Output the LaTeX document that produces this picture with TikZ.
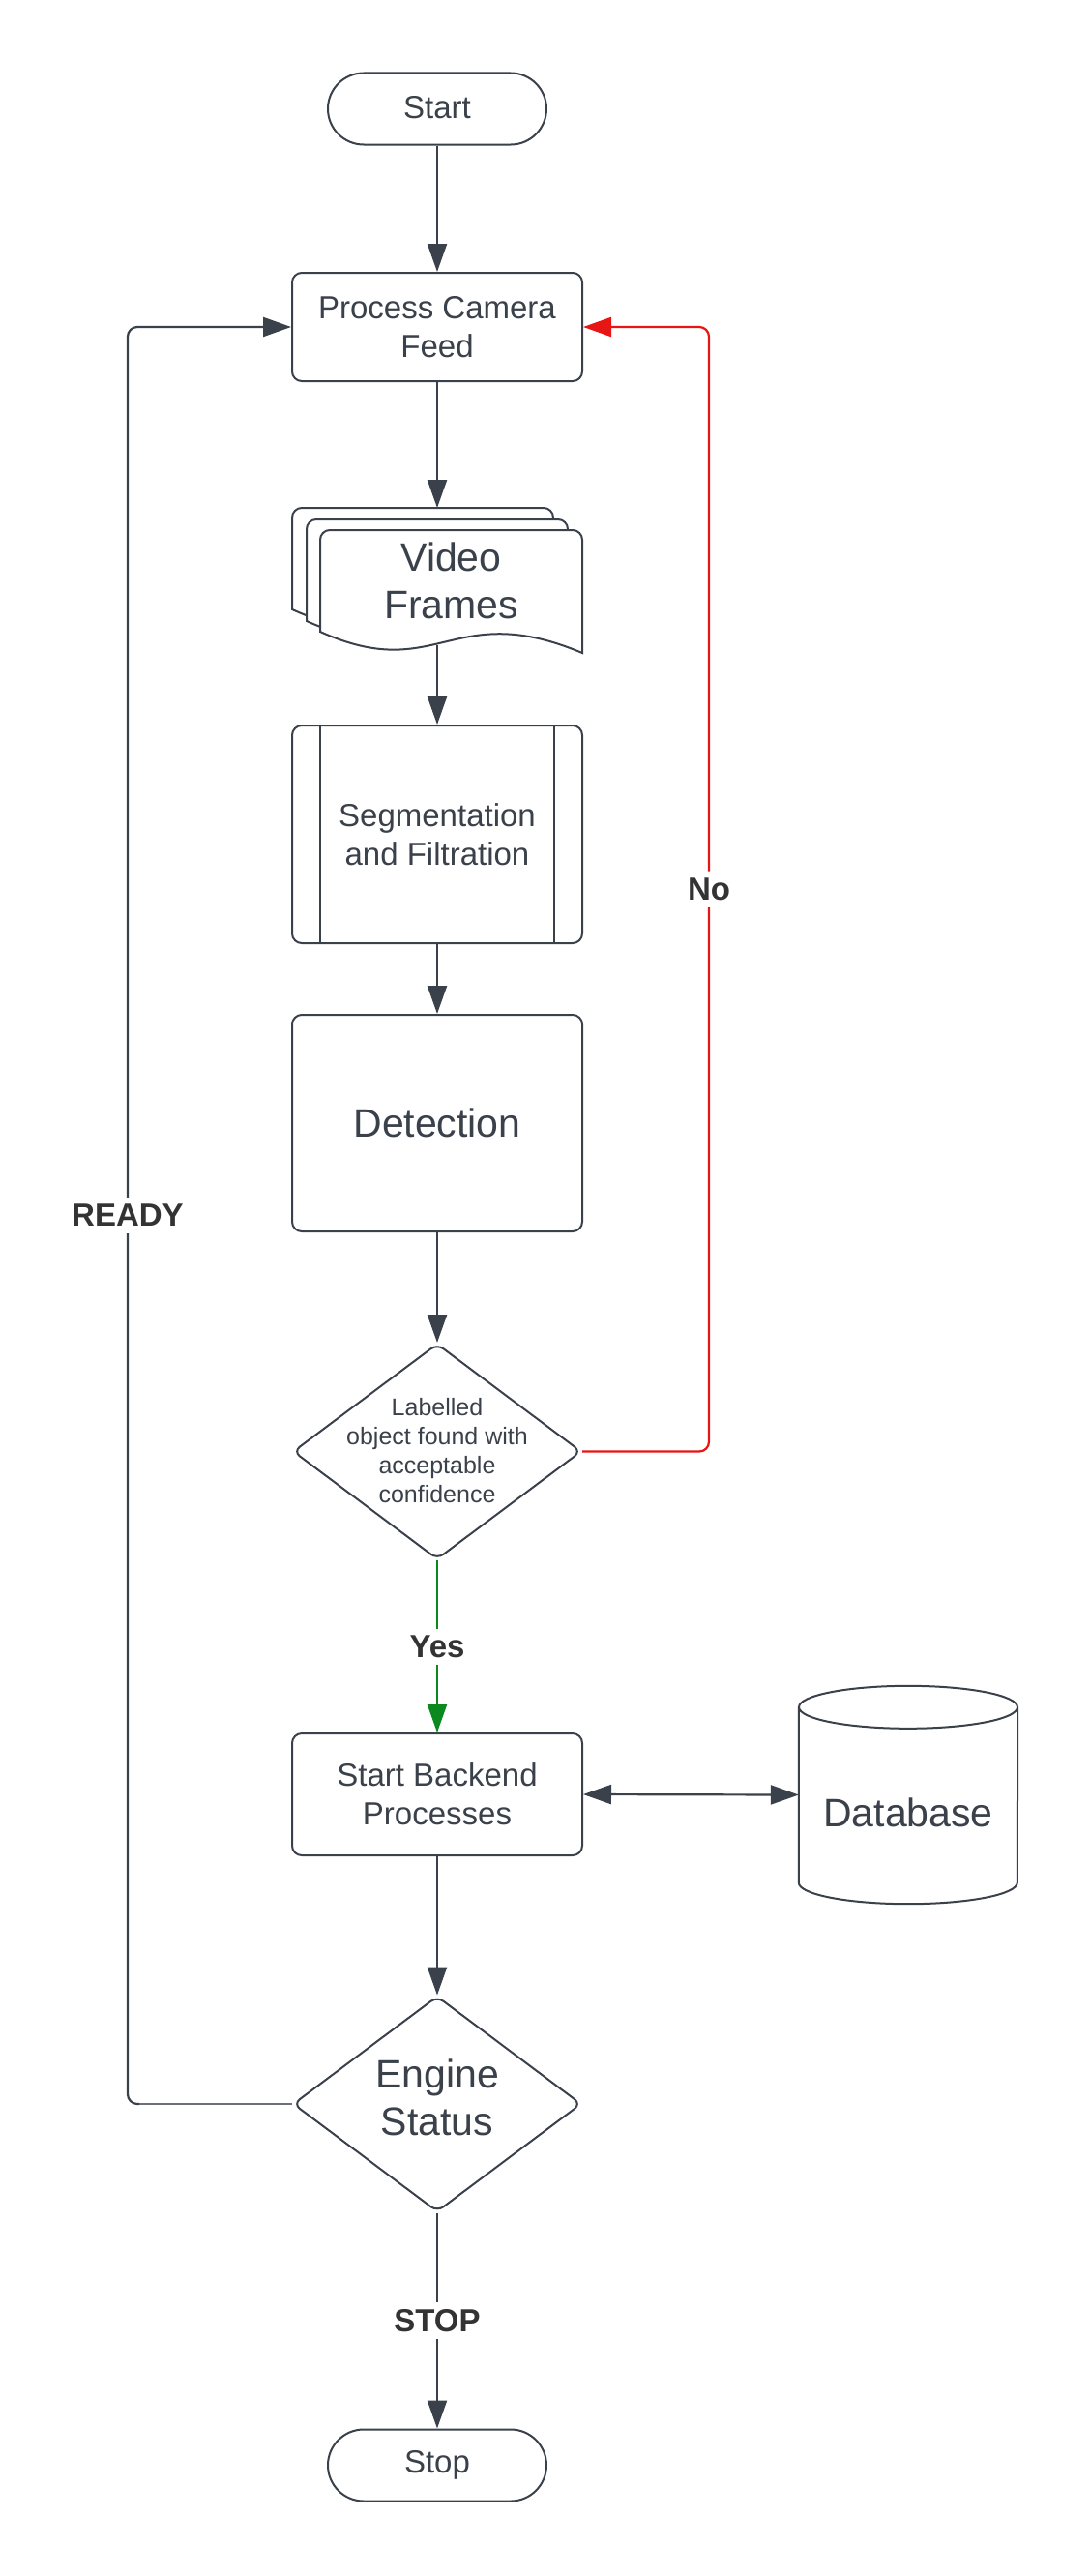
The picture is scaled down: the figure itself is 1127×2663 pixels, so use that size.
\documentclass[tikz,border=0pt]{standalone}
\usepackage{fontspec}
\setmainfont{Liberation Sans}
\usetikzlibrary{shapes.geometric, shapes.misc, arrows.meta, calc}
\definecolor{ink}{HTML}{3A414A}
\definecolor{lblc}{HTML}{333333}
\definecolor{nored}{HTML}{E81515}
\definecolor{yesgreen}{HTML}{0A8A1E}
\definecolor{thingray}{HTML}{6B7079}
\tikzset{
  base/.style={draw=ink, line width=2pt, fill=white, text=ink, inner sep=0pt, align=center},
  boxn/.style={base, rectangle, rounded corners=10pt, minimum width=300pt},
  term/.style={base, rounded rectangle, minimum width=226pt, minimum height=74pt},
  dia/.style={base, diamond, rounded corners=8pt, minimum width=298pt, minimum height=223pt},
  conn/.style={draw=ink, line width=2.2pt, -{Triangle[length=29pt,width=20pt]}},
  lbl/.style={fill=white, text=lblc, font=\fontsize{33}{38}\selectfont\bfseries, inner sep=7pt},
  fmid/.style={font=\fontsize{33}{40}\selectfont},
  fbig/.style={font=\fontsize{41}{49}\selectfont},
  fsmall/.style={font=\fontsize{25}{30}\selectfont},
  pageline/.style={draw=ink, line width=2pt, fill=white},
}
\newcommand{\vfpage}[4]{%
  \path[pageline] (#1,#4) [rounded corners=10pt]-- (#1,#2) -- (#3,#2) [sharp corners]-- (#3,{#4+22})
    .. controls ({#1+0.5*(#3-#1)},{#4-35}) and ({#1+0.45*(#3-#1)},{#4+55}) .. (#1,#4) -- cycle;}
\begin{document}
\begin{tikzpicture}[x=1pt, y=-1pt]
\useasboundingbox[fill=white] (0,0) rectangle (1127,2663);

% nodes
\node[term, fmid] (start) at (452,112.5) {\raisebox{4pt}{Start}};
\node[boxn, fmid, minimum height=112pt] (pcf) at (452,338) {Process Camera\\Feed};

% video frames (multi-document)
\vfpage{302}{525}{572}{630}
\vfpage{317}{537}{587}{642}
\vfpage{331}{548}{602}{653}
\node[fbig, text=ink, inner sep=0pt, align=center, minimum width=271pt, minimum height=105pt] (vf) at (466.5,600) {Video\\Frames};
\coordinate (vftop) at (452,525);
\coordinate (vfbot) at (452,667);

\node[boxn, fmid, minimum height=225pt] (seg) at (452,862.5) {Segmentation\\and Filtration};
\draw[draw=ink, line width=2pt] ($(seg.north west)+(30,0)$) -- ($(seg.south west)+(30,0)$);
\draw[draw=ink, line width=2pt] ($(seg.north east)+(-30,0)$) -- ($(seg.south east)+(-30,0)$);

\node[boxn, fbig, minimum height=224pt] (det) at (452,1161) {Detection};

\node[dia] (d1) at (452,1500.5) {};
\node[fsmall, text=ink, align=center, inner sep=0pt] (d1t) at (452,1500) {Labelled\\object found with\\acceptable\\confidence};

\node[boxn, fmid, minimum height=126pt] (sbp) at (452,1855) {Start Backend\\Processes};

% database cylinder
\node[minimum width=226pt, minimum height=225pt, inner sep=0pt] (db) at (939,1855.5) {};
\path[pageline] ($(db.north west)+(0,22)$) -- ($(db.south west)+(0,-22)$)
  arc[start angle=180, end angle=360, x radius=113pt, y radius=22pt] -- ($(db.north east)+(0,22)$);
\path[pageline] ($(db.north)+(0,22)$) ellipse[x radius=113pt, y radius=22pt];
\node[fbig, text=ink, inner sep=0pt] (dbt) at ($(db.center)+(0,18)$) {Database};

\node[dia] (es) at (452,2175) {};
\node[fbig, text=ink, align=center, inner sep=0pt] (est) at (452,2168) {Engine\\Status};

\node[term, fmid] (stop) at (452,2548.5) {Stop};

% loop guide coordinates
\coordinate (nox) at (733,0);
\coordinate (rdx) at (132,0);

% connectors
\draw[conn] (start.south) -- (pcf.north);
\draw[conn] (pcf.south) -- (vftop);
\draw[conn] (vfbot) -- (seg.north);
\draw[conn] (seg.south) -- (det.north);
\draw[conn] (det.south) -- (d1.north);
\draw[conn, draw=yesgreen] (d1.south) -- node[lbl] {Yes} (sbp.north);
\draw[conn, {Triangle[length=29pt,width=20pt]}-{Triangle[length=29pt,width=20pt]}] (sbp.east) -- (db.west);
\draw[conn] (sbp.south) -- (es.north);
\draw[conn] (es.south) -- node[lbl] {STOP} (stop.north);
\draw[conn, draw=nored, rounded corners=10pt] (d1.east) -- (d1.east -| nox) -- node[lbl] {No} (pcf.east -| nox) -- (pcf.east);
\draw[draw=thingray, line width=1.3pt] (es.west) -- ($(es.west -| rdx)+(12,0)$);
\draw[conn, rounded corners=10pt] ($(es.west -| rdx)+(12,0)$) -- (es.west -| rdx) -- node[lbl] {READY} (pcf.west -| rdx) -- (pcf.west);
\end{tikzpicture}
\end{document}
